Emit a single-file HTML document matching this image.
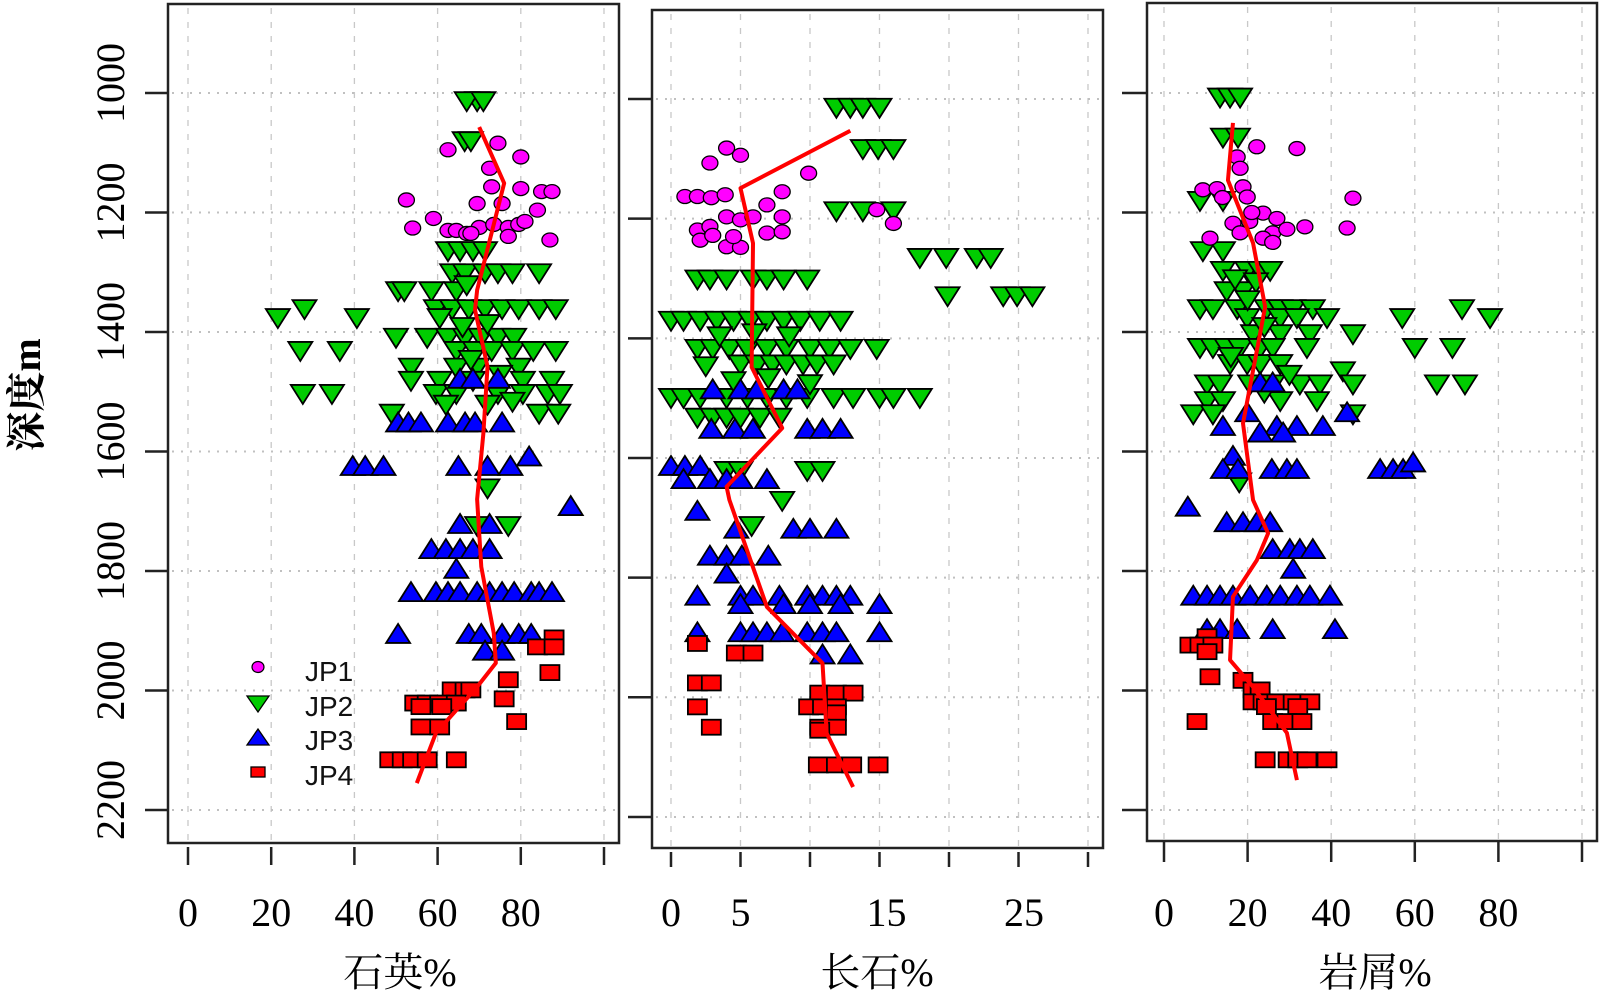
<!DOCTYPE html>
<html><head><meta charset="utf-8"><title>Depth profiles</title>
<style>
html,body{margin:0;padding:0;background:#fff;}
svg{display:block;}
</style></head>
<body>
<svg id="chart" width="1600" height="992" viewBox="0 0 1600 992" xmlns="http://www.w3.org/2000/svg">
<rect x="0" y="0" width="1600" height="992" fill="#fff"/>
<g id="panels"></g>
<g id="legend">
  <ellipse cx="258" cy="667" rx="6" ry="5.5" fill="#ff00ff" stroke="#000" stroke-width="1.2"/>
  <text x="305" y="681" font-family="Liberation Sans, sans-serif" font-size="28" fill="#111">JP1</text>
  <polygon points="247,696 269,696 258,712" fill="#00cc00" stroke="#000" stroke-width="1.3"/>
  <text x="305" y="716" font-family="Liberation Sans, sans-serif" font-size="28" fill="#111">JP2</text>
  <polygon points="247,745 269,745 258,729" fill="#0000ff" stroke="#000" stroke-width="1.3"/>
  <text x="305" y="750" font-family="Liberation Sans, sans-serif" font-size="28" fill="#111">JP3</text>
  <rect x="251" y="767" width="14" height="10" fill="#ff0000" stroke="#000" stroke-width="1.3"/>
  <text x="305" y="785" font-family="Liberation Sans, sans-serif" font-size="28" fill="#111">JP4</text>
</g>
<text transform="translate(40,395) rotate(-90)" text-anchor="middle" font-family="Liberation Serif, Noto Serif CJK SC, serif" font-size="40" font-weight="bold" fill="#000">深度m</text>
</svg>
<script>
// ---------- shared depth ticks ----------
const depthTicks = [1000, 1200, 1400, 1600, 1800, 2000, 2200];

// ---------- Panel 1: quartz (石英%) ----------  [value, depth]
const quartzJP1 = [[62.5,1095],[74.5,1084],[80,1107],[72.5,1126],[73,1157],[80,1160],[85,1165],[87.5,1165],[52.5,1179],[69.5,1185],[75.5,1185],[84,1196],[59,1210],[54,1226],[62.5,1230],[64.5,1230],[67,1235],[70,1225],[73.5,1220],[77,1225],[79.5,1220],[81,1215],[77,1240],[87,1246],[68,1235]];
const quartzJP2 = [[69.5,1012],[67,1012],[71,1012],[66.5,1079],[68,1079],[62.5,1263],[65.4,1263],[68.5,1263],[71.4,1263],[63.5,1300],[66.6,1300],[71.4,1300],[74.5,1300],[78,1300],[84.4,1300],[50.5,1330],[52,1330],[58.5,1330],[64.5,1330],[28,1360],[59.6,1360],[63.5,1360],[67.5,1360],[71.4,1360],[75.5,1360],[79.5,1360],[84.4,1360],[88.4,1360],[21.6,1375],[40.6,1375],[60.5,1375],[50,1408],[57.5,1408],[62.5,1408],[66.6,1408],[70.4,1408],[74.5,1408],[78.4,1408],[27,1430],[36.5,1430],[64.5,1430],[69,1430],[73,1430],[78,1430],[83,1430],[88.4,1430],[53.6,1458],[64.5,1458],[69.5,1458],[79.5,1458],[53.6,1480],[60.5,1480],[68.5,1480],[80.5,1480],[87.5,1480],[27.6,1502],[34.6,1502],[59.6,1502],[64.5,1502],[74.5,1502],[80.5,1502],[86.5,1502],[89.4,1502],[49,1535],[84.4,1535],[89,1535],[69.5,1723],[77,1723],[72,1660],[66,1390],[72,1385],[68,1445],[75,1470],[62,1520],[72,1520],[78,1515],[67,1320]];
const quartzJP3 = [[65.4,1480],[68.5,1480],[74.5,1480],[50.5,1553],[53,1553],[56,1553],[62.5,1553],[66.6,1553],[69,1553],[75.5,1553],[39.6,1626],[42.6,1626],[47,1626],[65,1626],[72,1626],[77.5,1626],[82,1610],[92,1693],[65.4,1723],[72.5,1723],[58.5,1765],[62,1765],[65.4,1765],[68.5,1765],[72.5,1765],[64.5,1798],[53.6,1837],[59.6,1837],[62.5,1837],[65.4,1837],[69.5,1837],[72.5,1837],[75.5,1837],[78.4,1837],[82.5,1837],[84.4,1837],[87.5,1837],[50.5,1907],[67.5,1907],[70.5,1907],[75.5,1907],[79.5,1907],[82.5,1907],[71.4,1935],[75.5,1935]];
const quartzJP4 = [[88,1912],[84,1927],[88,1927],[77,1982],[87,1970],[63.5,1999],[66.6,1999],[68,1999],[54.5,2021],[57.5,2021],[60.5,2021],[64.5,2021],[76,2014],[56,2027],[61,2027],[56,2061],[60.5,2061],[79,2052],[48.5,2116],[51.5,2116],[54,2116],[57.5,2116],[64.5,2116]];
const quartzTrend = [[70,1057],[76,1151],[69.5,1330],[69,1363],[72,1458],[71,1570],[69.5,1680],[70.5,1793],[73.5,1904],[74,1954],[69.5,1994],[59.6,2071],[55,2155]];
const quartzTicks = [0, 20, 40, 60, 80, 100];
const quartzTickLabels = ["0", "20", "40", "60", "80"];

// ---------- Panel 2: feldspar (长石%) ----------
const feldJP1 = [[4,1082],[5,1094],[2.8,1107],[9.9,1124],[8,1155],[1,1163],[1.9,1163],[2.9,1165],[3.9,1160],[6.9,1177],[8,1197],[1.9,1219],[2.8,1213],[4,1197],[5,1202],[5.9,1197],[2.1,1236],[4,1247],[5,1248],[6.9,1224],[8,1222],[16,1208],[14.8,1185],[3,1228],[4.5,1230]];
const feldJP2 = [[11.9,1013],[12.9,1013],[13.8,1013],[15,1013],[13.8,1082],[14.9,1082],[16,1082],[11.9,1186],[13.8,1186],[16,1186],[17.9,1264],[19.8,1264],[22,1264],[23,1264],[1.9,1300],[2.8,1300],[4,1300],[5.9,1300],[6.9,1300],[8.1,1300],[9.8,1300],[19.9,1328],[23.9,1328],[24.9,1328],[26,1328],[0,1369],[0.9,1369],[2.1,1369],[3.3,1369],[4.5,1369],[5.7,1369],[6.9,1369],[8.1,1369],[9.3,1369],[10.7,1369],[12.2,1369],[1.9,1416],[3,1416],[4.2,1416],[5.5,1416],[6.9,1416],[8.3,1416],[10,1416],[11.4,1416],[12.9,1416],[14.8,1416],[5,1442],[6.2,1442],[7.3,1442],[8.3,1442],[9.5,1442],[10.5,1442],[11.7,1442],[0,1498],[0.9,1498],[2.1,1498],[4,1498],[5.5,1498],[6.9,1498],[8.3,1498],[9.8,1498],[11.7,1498],[13.1,1498],[15,1498],[16,1498],[17.9,1498],[1.9,1531],[3,1531],[4,1531],[5,1531],[6.4,1531],[7.8,1531],[4,1620],[5,1620],[9.8,1620],[10.9,1620],[8,1670],[5.8,1712],[3.5,1395],[6,1390],[8.5,1395],[2.5,1445],[4.5,1470],[7,1465],[10,1475]];
const feldJP3 = [[3,1487],[5,1487],[6.2,1487],[8.1,1487],[9.1,1487],[2.9,1553],[4.6,1553],[5.9,1553],[9.8,1553],[10.9,1553],[12.2,1553],[0,1615],[1,1615],[2.1,1615],[0.9,1637],[2.8,1637],[4,1637],[5,1637],[6.9,1637],[1.9,1690],[4.7,1720],[8.8,1720],[10,1720],[11.9,1720],[2.8,1765],[4,1765],[5.1,1765],[7,1765],[4,1795],[1.9,1832],[5,1832],[5.9,1832],[7.8,1832],[9.8,1832],[10.9,1832],[11.9,1832],[12.9,1832],[5,1846],[8.1,1846],[10,1846],[12.2,1846],[15,1846],[1.9,1893],[5,1893],[5.9,1893],[6.9,1893],[8,1893],[9.8,1893],[10.9,1893],[11.9,1893],[15,1893],[10.9,1930],[12.9,1930]];
const feldJP4 = [[1.9,1910],[4.7,1926],[5.9,1926],[1.9,1976],[2.9,1976],[10.7,1993],[11.9,1993],[13.1,1993],[1.9,2016],[9.9,2016],[10.9,2016],[11.9,2016],[11.9,2026],[2.9,2050],[10.7,2050],[11.9,2050],[10.7,2055],[10.6,2113],[11.9,2113],[13,2113],[14.9,2113]];
const feldTrend = [[12.9,1053],[5,1149],[5.9,1241],[5.8,1448],[8,1550],[4,1648],[4.2,1670],[6.9,1849],[10.9,1943],[11.2,2060],[13.1,2150]];
const feldTicks = [0, 5, 10, 15, 20, 25, 30];
const feldTickLabels = [["0",0],["5",5],["15",15.5],["25",25.4]];

// ---------- Panel 3: rock fragments (岩屑%) ----------
const rockJP1 = [[22.2,1090],[31.8,1093],[17.5,1107],[18.2,1126],[9.3,1162],[12.7,1160],[18.9,1157],[19.9,1174],[45.2,1176],[23.7,1201],[27,1210],[16.5,1218],[20.5,1215],[33.7,1224],[43.8,1226],[26,1234],[18.2,1234],[23.7,1243],[26,1250],[11,1243],[29.4,1228],[21,1200],[14,1175]];
const rockJP2 = [[13.4,1006],[15.8,1006],[18.2,1006],[14.1,1073],[17.7,1073],[8.6,1179],[14.1,1179],[9.3,1263],[14.1,1263],[14.1,1296],[19.9,1296],[23,1296],[25.4,1296],[15,1330],[18.9,1330],[8.6,1360],[11.7,1360],[17.5,1360],[24.6,1360],[27.8,1360],[30.9,1360],[35.6,1360],[71.3,1360],[19.9,1375],[27.8,1375],[31.8,1375],[39,1375],[57,1375],[78,1375],[21.3,1402],[27.8,1402],[34.9,1402],[45.2,1402],[8.6,1425],[11.7,1425],[15,1425],[18.2,1425],[23,1425],[26,1425],[34.2,1425],[60,1425],[69,1425],[15.8,1452],[19.9,1452],[23,1452],[27.8,1452],[42.8,1464],[10.3,1486],[13.4,1486],[20.6,1486],[26,1486],[32.5,1486],[37.3,1486],[45.2,1486],[65.3,1486],[72,1486],[10.3,1514],[14.1,1514],[27.8,1514],[36.6,1514],[7,1536],[11.7,1536],[45.2,1536],[18,1650],[17,1310],[22,1315],[20,1345],[24,1390],[16,1440],[30,1470],[24,1500]];
const rockJP3 = [[23,1486],[26,1486],[19.9,1536],[43.8,1536],[14.1,1559],[27,1559],[31.8,1559],[38,1559],[23,1570],[28.5,1570],[16.5,1609],[14.1,1631],[17.7,1631],[25.8,1631],[29.4,1631],[31.8,1631],[51.7,1631],[54.8,1631],[57.2,1631],[59.6,1620],[5.7,1694],[15,1720],[18.9,1720],[22.2,1720],[25.4,1720],[26,1765],[30.1,1765],[32.5,1765],[35.6,1765],[30.9,1798],[7,1843],[10.3,1843],[13.4,1843],[16.5,1843],[20.6,1843],[24.6,1843],[27.8,1843],[31.8,1843],[34.9,1843],[39.7,1843],[10.3,1899],[13.4,1899],[17.5,1899],[26,1899],[40.9,1899]];
const rockJP4 = [[10.3,1910],[6.2,1924],[8.6,1924],[11.7,1924],[10.3,1935],[11,1977],[18.9,1983],[21.3,1999],[23,1999],[21.3,2019],[23.7,2019],[27,2019],[30.9,2019],[34.9,2019],[24.5,2027],[32,2027],[7.9,2052],[26,2052],[29.4,2052],[33,2052],[24.2,2116],[29.7,2116],[32,2116],[34.2,2116],[39,2116]];
const rockTrend = [[16.5,1050],[15.3,1146],[21.3,1251],[24.2,1358],[18.9,1553],[21.3,1681],[24.9,1737],[22.2,1782],[16.5,1843],[15.8,1949],[21.3,1994],[29.4,2071],[31.8,2150]];
const rockTicks = [0, 20, 40, 60, 80, 100];
const rockTickLabels = ["0", "20", "40", "60", "80"];

// ---------- drawing ----------
const NS = "http://www.w3.org/2000/svg";
const root = document.getElementById('panels');
function mk(tag, attrs, parent) {
  const e = document.createElementNS(NS, tag);
  for (const k in attrs) e.setAttribute(k, attrs[k]);
  (parent || root).appendChild(e);
  return e;
}

const panels = [
  { key: 'quartz', title: '石英%', titleX: 400, box: [168, 4, 619, 843], x0: 188, kx: 4.16, y0: 93, ky: 0.5975,
    jp1: quartzJP1, jp2: quartzJP2, jp3: quartzJP3, jp4: quartzJP4, trend: quartzTrend,
    ticks: quartzTicks, labels: quartzTickLabels.map((t) => [t, +t]), tickY: [847, 865], yTickX: [145, 168], yLabels: true },
  { key: 'feldspar', title: '长石%', titleX: 877, box: [652, 10, 1103, 848], x0: 671, kx: 13.9, y0: 99, ky: 0.5983,
    jp1: feldJP1, jp2: feldJP2, jp3: feldJP3, jp4: feldJP4, trend: feldTrend,
    ticks: feldTicks, labels: feldTickLabels, tickY: [852, 867], yTickX: [628, 652], yLabels: false },
  { key: 'rock-fragment', title: '岩屑%', titleX: 1375, box: [1147, 3, 1597, 841], x0: 1164, kx: 4.18, y0: 93, ky: 0.5975,
    jp1: rockJP1, jp2: rockJP2, jp3: rockJP3, jp4: rockJP4, trend: rockTrend,
    ticks: rockTicks, labels: rockTickLabels.map((t) => [t, +t]), tickY: [842, 862], yTickX: [1122, 1147], yLabels: false }
];

panels.forEach((p) => {
  const g = mk('g', {});
  
  
  const X = (v) => p.x0 + p.kx * v;
  const Y = (d) => p.y0 + p.ky * (d - 1000);
  const [bx0, by0, bx1, by1] = p.box;

  p.ticks.forEach((t) => {
    const l = mk('line', { x1: X(t), x2: X(t), y1: by0 + 4, y2: by1 - 2, stroke: '#c8c8c8', 'stroke-width': 1.3, 'stroke-dasharray': '6 8' }, g);
    
    
  });
  depthTicks.forEach((d) => {
    const l = mk('line', { x1: bx0 + 4, x2: bx1 - 2, y1: Y(d), y2: Y(d), stroke: '#c0c0c0', 'stroke-width': 2, 'stroke-dasharray': '2 7' }, g);
    
    
  });

  const s2 = mk('g', {}, g);
  
  
  p.jp2.forEach(([v, d]) => {
    const x = X(v), y = Y(d);
    const m = mk('polygon', { points: `${x-12},${y-8} ${x+12},${y-8} ${x},${y+11}`, fill: '#00cc00', stroke: '#000', 'stroke-width': 1.8 }, s2);
    
    
  });
  const s1 = mk('g', {}, g);
  
  
  p.jp1.forEach(([v, d]) => {
    const m = mk('ellipse', { cx: X(v), cy: Y(d), rx: 8, ry: 7, fill: '#ff00ff', stroke: '#000', 'stroke-width': 1.3 }, s1);
    
    
  });
  const s3 = mk('g', {}, g);
  
  
  p.jp3.forEach(([v, d]) => {
    const x = X(v), y = Y(d);
    const m = mk('polygon', { points: `${x-12},${y+8} ${x+12},${y+8} ${x},${y-11}`, fill: '#0000ff', stroke: '#000', 'stroke-width': 1.8 }, s3);
    
    
  });
  const s4 = mk('g', {}, g);
  
  
  p.jp4.forEach(([v, d]) => {
    const m = mk('rect', { x: X(v) - 9.5, y: Y(d) - 7.5, width: 19, height: 15, fill: '#ff0000', stroke: '#000', 'stroke-width': 1.8 }, s4);
    
    
  });

  const tl = mk('polyline', { points: p.trend.map(([v, d]) => `${X(v)},${Y(d)}`).join(' '), fill: 'none', stroke: '#ff0000', 'stroke-width': 4, 'stroke-linejoin': 'round' }, g);
  
  

  const bx = mk('rect', { x: bx0, y: by0, width: bx1 - bx0, height: by1 - by0, fill: 'none', stroke: '#222', 'stroke-width': 2.5 }, g);
  
  

  p.ticks.forEach((t) => {
    const l = mk('line', { x1: X(t), x2: X(t), y1: p.tickY[0], y2: p.tickY[1], stroke: '#222', 'stroke-width': 2.5 }, g);
    
    
  });
  p.labels.forEach(([txt, v]) => {
    const t = mk('text', { x: X(v), y: 926, 'text-anchor': 'middle', 'font-family': 'Liberation Serif, serif', 'font-size': 40, fill: '#000' }, g);
    t.textContent = txt;
    
    
  });
  depthTicks.forEach((d) => {
    const l = mk('line', { x1: p.yTickX[0], x2: p.yTickX[1], y1: Y(d), y2: Y(d), stroke: '#222', 'stroke-width': 2.5 }, g);
    
    
    if (p.yLabels) {
      const t = mk('text', { transform: `translate(124,${Y(d) - 10}) rotate(-90)`, 'text-anchor': 'middle', 'font-family': 'Liberation Serif, serif', 'font-size': 40, fill: '#000' }, g);
      t.textContent = String(d);
      
      
    }
  });
  const tt = mk('text', { x: p.titleX, y: 986, 'text-anchor': 'middle', 'font-family': 'Liberation Serif, Noto Serif CJK SC, serif', 'font-size': 40, fill: '#000' }, g);
  tt.textContent = p.title;
  
  
});
document.getElementById('chart').appendChild(document.getElementById('legend'));
</script>
</body></html>
